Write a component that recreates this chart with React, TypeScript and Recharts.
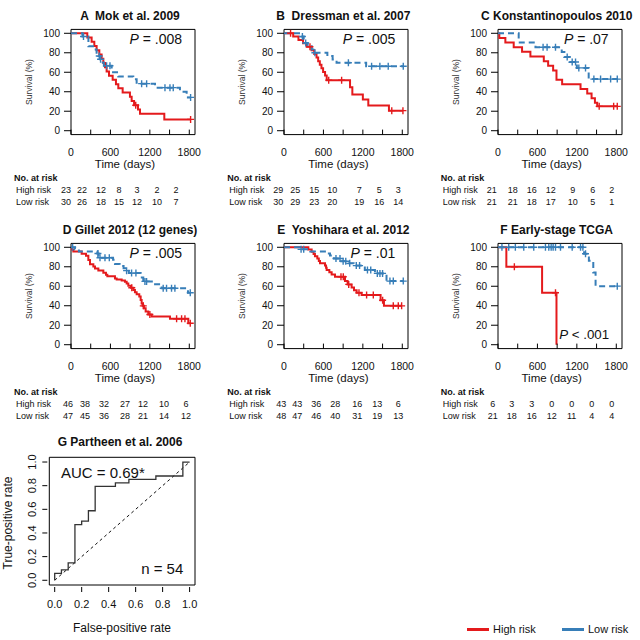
import React from "react";
import { LineChart, Line, XAxis, YAxis, ReferenceArea } from "recharts";

const RED = "#e41a1c";
const BLUE = "#377eb8";

const timeTicks = [0, 300, 600, 900, 1200, 1500, 1800];
const survivalTicks = [0, 20, 40, 60, 80, 100];
const rateTicks = [0, 0.2, 0.4, 0.6, 0.8, 1.0];

// Kaplan-Meier steps: [days, survival %, censored]
const mokHigh = [[0,100],[248,95.7],[314,91.3],[355,87],[390,82.6],[431,78.3],[466,73.9],[492,69.6],[517,65.2],[542,60.9],[578,56.5],[634,52.2],[684,47.8],[720,43.5],[786,39.1],[897,34.8],[923,30.4],[960,26.1],[985,26.1,1],[1020,21.7],[1050,17.4],[1420,11.6],[1820,11.6,1]];
const mokLow = [[0,100],[175,96.7],[190,96.7,1],[265,86.7],[360,83.3],[390,80],[416,76.7],[430,76.7,1],[441,73.3],[450,73.3,1],[466,70],[500,66.7],[542,66.7,1],[593,66.7,1],[619,62.5],[640,60],[720,55.6],[948,52.7],[999,48.3],[1075,48.3,1],[1151,48.3,1],[1278,44.2],[1430,44.2,1],[1506,44.2,1],[1556,44.2,1],[1658,40],[1760,34.2],[1820,34.2,1]];
const drssHigh = [[0,100],[100,100,1],[140,96.6],[220,93.1],[290,89.7],[345,86.2],[395,86.2,1],[420,82.5],[460,78.8],[495,75.1],[520,71.4],[545,67.7],[570,64],[595,60.3],[625,56.6],[650,51.9],[680,51.9,1],[877,51.9,1],[1005,44.5],[1040,37.1],[1200,32],[1283,25.8],[1597,20.6],[1640,20.6,1],[1810,20.6,1]];
const drssLow = [[0,100],[265,96.7],[280,96.7,1],[300,93.3],[315,90],[330,90,1],[360,86.7],[420,83.3],[445,80],[470,80,1],[660,76.6],[740,73.1],[800,69.7],[980,69.7,1],[1250,66.1],[1333,66.1,1],[1459,66.1,1],[1586,66.1,1],[1815,66.1,1]];
const konsHigh = [[0,100],[20,95.2],[112,90.5],[239,85.7],[366,81],[493,76.2],[697,71.4],[763,66.7],[839,61.9],[890,52.4],[976,47.6],[1256,42.9],[1358,38.1],[1424,33.3],[1475,28.6],[1510,25],[1540,25,1],[1760,25,1],[1815,25,1]];
const konsLow = [[0,100],[315,90.5],[570,85.7],[686,85.7,1],[747,85.7,1],[875,85.7,1],[970,80.7],[1010,75.7],[1053,75.7,1],[1090,70.6],[1129,70.6,1],[1180,70.6,1],[1200,64.5],[1230,64.5,1],[1332,64.5,1],[1380,53],[1459,53,1],[1561,53,1],[1714,53,1],[1815,53,1]];
const gillHigh = [[0,100],[10,97.8],[35,95.7],[162,93.5],[228,91.3],[264,87],[289,82.6],[340,80.4],[365,78.3],[416,76.1],[492,73.9],[532,71.7],[553,70.2],[669,68],[695,67],[771,65.9],[821,64.6],[847,62.8],[872,60.6],[913,58.4],[925,58.4,1],[948,56.1],[973,53.9],[999,51.7],[1039,49.4],[1060,45.9],[1075,42.4],[1090,39.9],[1100,39.9,1],[1110,37.4],[1136,34],[1176,31],[1200,31,1],[1227,29],[1506,26.6],[1607,26.6,1],[1683,26.6,1],[1734,26.6,1],[1785,22],[1815,22,1]];
const gillLow = [[0,100],[25,100,1],[60,97.9],[120,95.7],[400,93.6],[410,93.6,1],[420,91.4],[430,89.3],[441,89.3,1],[517,89.3,1],[583,89.3,1],[640,87.2],[669,82.9],[740,80.7],[800,78.5],[846,76,1],[880,73.5],[922,73.5,1],[988,73.5,1],[1060,69],[1100,65],[1125,65,1],[1150,65,1],[1230,62.1],[1380,58],[1403,58,1],[1454,58,1],[1530,58,1],[1581,58,1],[1780,53.4],[1815,53.4,1]];
const yoshHigh = [[0,100],[370,97.7],[421,95.3],[450,93],[471,90.7],[507,88.4],[530,86],[548,83.7],[624,81.4],[640,79],[649,76.7],[690,74.4],[725,72.1],[776,69.8],[867,69.8,1],[902,69.8,1],[928,65.3],[968,61.9],[985,61.9,1],[1029,58.8],[1065,56],[1105,53.3],[1141,53.3,1],[1181,50.9],[1257,50.9,1],[1359,50.9,1],[1470,45.7],[1501,45.7,1],[1521,39.9],[1663,39.9,1],[1739,39.9,1],[1790,39.9,1]];
const yoshLow = [[0,100],[243,97.9],[260,97.9,1],[300,97.9,1],[400,95.8],[640,93.7],[700,91.6],[760,88.5],[791,88.5,1],[852,88.5,1],[870,85.6],[900,85.6,1],[940,85.6,1],[979,83.5],[1000,83.5,1],[1060,81.2],[1100,81.2,1],[1150,81.2,1],[1230,76.8],[1270,76.8,1],[1320,76.8,1],[1384,73.2],[1420,73.2,1],[1460,73.2,1],[1500,73.2,1],[1560,65.3],[1612,65.3,1],[1663,65.3,1],[1815,65.3,1]];
const tcgaHigh = [[0,100],[127,80],[249,80,1],[671,53.3],[875,53.3,1],[890,0]];
const tcgaLow = [[0,100],[60,100,1],[163,100,1],[264,100,1],[392,100,1],[544,100,1],[722,100,1],[773,100,1],[809,100,1],[839,100,1],[875,100,1],[951,100,1],[1129,100,1],[1256,100,1],[1292,100,1],[1310,93.3],[1332,93.3,1],[1383,86.2],[1450,74],[1485,60.1],[1815,60.1,1]];

// numbers at risk at 0, 300, ... 1800 days
const mokHighN = [23, 22, 12, 8, 3, 2, 2];
const mokLowN = [30, 26, 18, 15, 12, 10, 7];
const drssHighN = [29, 25, 15, 10, 7, 5, 3];
const drssLowN = [30, 29, 23, 20, 19, 16, 14];
const konsHighN = [21, 18, 16, 12, 9, 6, 2];
const konsLowN = [21, 21, 18, 17, 10, 5, 1];
const gillHighN = [46, 38, 32, 27, 12, 10, 6];
const gillLowN = [47, 45, 36, 28, 21, 14, 12];
const yoshHighN = [43, 43, 36, 28, 16, 13, 6];
const yoshLowN = [48, 47, 46, 40, 31, 19, 13];
const tcgaHighN = [6, 3, 3, 0, 0, 0, 0];
const tcgaLowN = [21, 18, 16, 12, 11, 4, 4];

// ROC, Partheen et al. 2006
const rocFpr = [0, 0, 0.05, 0.1, 0.15, 0.2, 0.25, 0.3, 0.45, 0.55, 0.75, 0.95, 1.0];
const rocTpr = [0, 0.059, 0.088, 0.147, 0.471, 0.5, 0.588, 0.794, 0.824, 0.853, 0.882, 1.0, 1.0];

const km = (rows: number[][]) => rows.map(([t, s, c]) => ({ t, s, c: c ? 1 : 0 }));
const roc = rocFpr.map((f, i) => ({ fpr: f, tpr: rocTpr[i] }));
const diag = [{ fpr: 0, tpr: 0 }, { fpr: 1, tpr: 1 }];

const PW = 640 / 3;
const panels = [
  { title: "A  Mok et al. 2009", p: "= .008", high: mokHigh, low: mokLow, hn: mokHighN, ln: mokLowN, col: 0, row: 0, cols: [66, 82, 101, 119, 137, 157, 176] },
  { title: "B  Dressman et al. 2007", p: "= .005", high: drssHigh, low: drssLow, hn: drssHighN, ln: drssLowN, col: 1, row: 0, cols: [65, 82, 101, 119, 146, 166, 185] },
  { title: "C Konstantinopoulos 2010", p: "= .07", high: konsHigh, low: konsLow, hn: konsHighN, ln: konsLowN, col: 2, row: 0, cols: [65, 86, 105, 124, 146, 166, 185] },
  { title: "D Gillet 2012 (12 genes)", p: "= .005", high: gillHigh, low: gillLow, hn: gillHighN, ln: gillLowN, col: 0, row: 1, cols: [68, 85, 104, 125, 143, 164, 186] },
  { title: "E  Yoshihara et al. 2012", p: "= .01", high: yoshHigh, low: yoshLow, hn: yoshHighN, ln: yoshLowN, col: 1, row: 1, cols: [68, 84, 103, 122, 144, 164, 185] },
  { title: "F Early-stage TCGA", p: "< .001", pLow: true, high: tcgaHigh, low: tcgaLow, hn: tcgaHighN, ln: tcgaLowN, col: 2, row: 1, cols: [66, 85, 105, 125, 145, 165, 185] },
];

function T({ x, y, size, bold, anchor = "middle", rotate, color = "#111", children }: any) {
  const tx = anchor === "middle" ? "-50%" : anchor === "end" ? "-100%" : "0";
  return (
    <div
      style={{
        position: "absolute", left: x, top: y, fontSize: size, fontWeight: bold ? 700 : 400,
        lineHeight: 1, whiteSpace: "pre", color,
        transform: `translate(${tx},-50%)${rotate ? ` rotate(${rotate}deg)` : ""}`,
      }}
    >
      {children}
    </div>
  );
}

const censor = (color: string) => (p: any) => {
  const { cx, cy, payload, index } = p;
  if (!payload || !payload.c || cx == null) return <g key={`n${index}`} />;
  return (
    <path key={`c${index}`} d={`M${cx - 3.5},${cy}H${cx + 3.5}M${cx},${cy - 3.5}V${cy + 3.5}`}
      stroke={color} strokeWidth={1.4} strokeDasharray="none" fill="none" />
  );
};

const KmXTick = (p: any) => {
  const v = p.payload.value;
  return (
    <g>
      <line x1={p.x} x2={p.x} y1={p.y} y2={p.y - 5} stroke="#000" />
      {v % 600 === 0 && (
        <text x={p.x} y={p.y + 17.9} dy="0.36em" textAnchor="middle" fontSize={10.5} fill="#111">{v}</text>
      )}
    </g>
  );
};

const KmYTick = (p: any) => (
  <g>
    <line x1={p.x - 7} x2={p.x} y1={p.y} y2={p.y} stroke="#000" />
    <text x={p.x - 11} y={p.y} dy="0.36em" textAnchor="end" fontSize={10} fill="#111">{p.payload.value}</text>
  </g>
);

const RocXTick = (p: any) => (
  <g>
    <line x1={p.x} x2={p.x} y1={p.y + 2} y2={p.y + 7} stroke="#000" />
    <text x={p.x} y={p.y + 19} dy="0.36em" textAnchor="middle" fontSize={11} fill="#111">{p.payload.value.toFixed(1)}</text>
  </g>
);

const RocYTick = (p: any) => {
  const tx = p.x - 17.6;
  return (
    <g>
      <line x1={p.x - 7} x2={p.x - 2} y1={p.y} y2={p.y} stroke="#000" />
      <text x={tx} y={p.y} dy="0.36em" textAnchor="middle" fontSize={11} fill="#111"
        transform={`rotate(-90 ${tx} ${p.y})`}>{p.payload.value.toFixed(1)}</text>
    </g>
  );
};

function KmPanel({ cfg }: any) {
  const left = cfg.col * PW;
  const top = cfg.row * 214;
  return (
    <div style={{ position: "absolute", left, top, width: 214, height: 214 }}>
      <T x={130} y={15.7} size={12} bold>{cfg.title}</T>
      <LineChart width={213} height={165} margin={{ top: 29.4, right: 18, bottom: 0, left: 0 }}>
        <XAxis type="number" dataKey="t" domain={[0, 1887]} ticks={timeTicks} interval={0} height={30.4}
          axisLine={false} tickLine={false} tickSize={0} tickMargin={0} tick={KmXTick} allowDataOverflow />
        <YAxis type="number" domain={[-4, 104]} ticks={survivalTicks} interval={0} width={71}
          axisLine={false} tickLine={false} tickSize={0} tickMargin={0} tick={KmYTick} allowDataOverflow />
        <ReferenceArea x1={0} x2={1887} y1={-4} y2={104} fill="none" stroke="#000" strokeWidth={1} ifOverflow="visible" />
        <Line data={km(cfg.high)} dataKey="s" type="stepAfter" stroke={RED} strokeWidth={2}
          dot={censor(RED)} activeDot={false} isAnimationActive={false} />
        <Line data={km(cfg.low)} dataKey="s" type="stepAfter" stroke={BLUE} strokeWidth={2} strokeDasharray="6 4"
          dot={censor(BLUE)} activeDot={false} isAnimationActive={false} />
      </LineChart>
      <T x={29} y={82} size={8.5} rotate={-90} color="#333">Survival (%)</T>
      <T x={125} y={165.2} size={11.5}>Time (days)</T>
      {cfg.pLow ? (
        <T x={182.5} y={121} size={13.3} anchor="end"><i>P</i> {cfg.p}</T>
      ) : (
        <T x={182} y={39} size={14} anchor="end"><i>P</i> {cfg.p}</T>
      )}
      <T x={14} y={178} size={9} bold anchor="start">No. at risk</T>
      <T x={16} y={190} size={9} anchor="start">High risk</T>
      <T x={16} y={201.5} size={9} anchor="start">Low risk</T>
      {cfg.hn.map((n: number, i: number) => (
        <T key={`h${i}`} x={cfg.cols[i]} y={190} size={9}>{n}</T>
      ))}
      {cfg.ln.map((n: number, i: number) => (
        <T key={`l${i}`} x={cfg.cols[i]} y={201.5} size={9}>{n}</T>
      ))}
    </div>
  );
}

function RocPanel() {
  return (
    <div style={{ position: "absolute", left: 0, top: 400, width: 214, height: 240 }}>
      <T x={120} y={41.7} size={12} bold>G Partheen et al. 2006</T>
      <LineChart width={213} height={225} margin={{ top: 57.3, right: 18, bottom: 0, left: 0 }}>
        <XAxis type="number" dataKey="fpr" domain={[-0.04, 1.04]} ticks={rateTicks} interval={0} height={40}
          axisLine={false} tickLine={false} tickSize={0} tickMargin={0} tick={RocXTick} allowDataOverflow />
        <YAxis type="number" domain={[-0.04, 1.04]} ticks={rateTicks} interval={0} width={49.3}
          axisLine={false} tickLine={false} tickSize={0} tickMargin={0} tick={RocYTick} allowDataOverflow />
        <ReferenceArea x1={-0.04} x2={1.04} y1={-0.04} y2={1.04} fill="none" stroke="#000" strokeWidth={1} ifOverflow="visible" />
        <Line data={diag} dataKey="tpr" type="linear" stroke="#111" strokeWidth={1} strokeDasharray="3 3"
          dot={false} activeDot={false} isAnimationActive={false} />
        <Line data={roc} dataKey="tpr" type="stepAfter" stroke="#333" strokeWidth={1.3}
          dot={false} activeDot={false} isAnimationActive={false} />
      </LineChart>
      <T x={8.3} y={123} size={12} rotate={-90}>True-positive rate</T>
      <T x={122} y={227.7} size={12}>False-positive rate</T>
      <T x={61} y={71.7} size={15} anchor="start">AUC = 0.69*</T>
      <T x={183.3} y={168} size={15} anchor="end">n = 54</T>
    </div>
  );
}

export default function App() {
  return (
    <div style={{ position: "absolute", left: 0, top: 0, width: 640, height: 640, background: "#fff", fontFamily: "'Liberation Sans', Arial, sans-serif", overflow: "hidden" }}>
      {panels.map((cfg) => <KmPanel key={cfg.title} cfg={cfg} />)}
      <RocPanel />
      <div style={{ position: "absolute", left: 466.7, top: 627.5, width: 22.6, height: 3.5, background: RED }} />
      <T x={493} y={629.3} size={11} anchor="start">High risk</T>
      <div style={{ position: "absolute", left: 561.7, top: 627.5, width: 22.3, height: 3.5, background: BLUE }} />
      <T x={588} y={629.3} size={11} anchor="start">Low risk</T>
    </div>
  );
}
